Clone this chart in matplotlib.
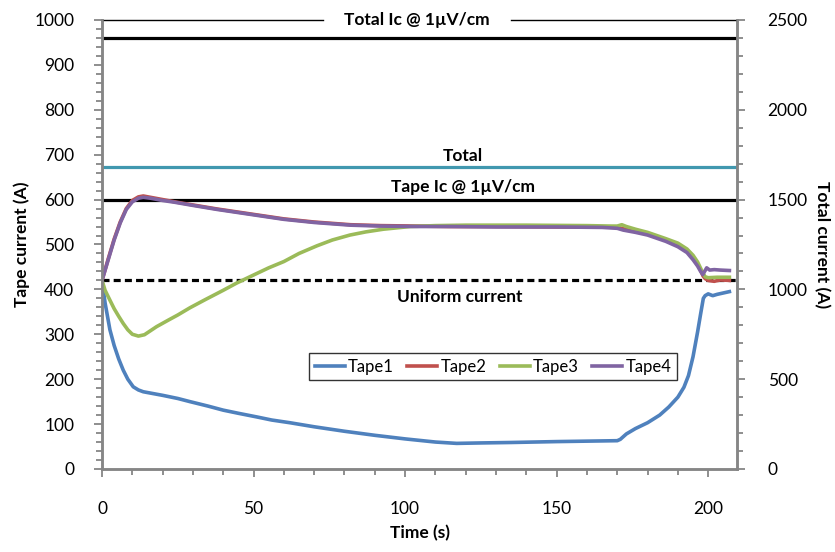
import matplotlib.pyplot as plt
from matplotlib.ticker import MultipleLocator

# ==============
# data
# ==============
t_tape1 = [0, 1, 2.6, 4, 5.5, 7, 8.5, 10.3, 12, 13.6, 16, 20, 25, 29, 35, 40, 45, 51, 56, 62,
           70, 80, 90, 100, 110, 117, 125, 135, 150, 160, 170, 171, 173, 176, 180, 184, 187,
           190, 192, 193.5, 195, 196.5, 197.5, 198.4, 199, 200, 201.5, 203, 205, 207]
tape1 = [420, 370, 310, 275, 245, 220, 200, 183, 176, 172, 169, 164, 157, 150, 140, 131, 124, 116, 109, 103,
         94, 84, 75, 67, 60, 57, 58, 59, 61, 62, 63, 66, 78, 90, 103, 120, 138,
         160, 182, 208, 250, 305, 345, 380, 386, 390, 386, 389, 392, 395]

t_tape2 = [0, 2, 4, 6, 8, 10, 12, 13.6, 16, 20, 24, 30, 38, 45, 50, 60, 70, 82, 92, 104, 115, 130,
           150, 165, 170, 172, 176, 180, 186, 190, 193, 195, 196.5, 197.5, 198.3, 199, 200, 202, 204, 207]
tape2 = [420, 467, 512, 550, 580, 598, 606, 608, 605, 600, 595, 588, 579, 572, 567, 557, 550, 544, 542, 541, 540, 540,
         539, 539, 538, 535, 530, 524, 510, 499, 486, 470, 455, 443, 430, 424, 420, 418, 421, 420]

t_tape3 = [0, 1, 2.6, 4, 5.5, 7, 8.5, 10, 12, 14, 16, 18, 22, 25, 29, 34, 40, 44.4, 50, 55, 60, 65,
           70.9, 76, 81.8, 87, 92.8, 101.7, 110, 120, 140, 160, 168, 170, 171.5, 173, 176, 180, 186,
           190, 193, 195, 196.5, 197.5, 198.3, 199, 200, 203, 207]
tape3 = [420, 398, 376, 357, 340, 324, 310, 300, 296, 299, 308, 317, 332, 343, 359, 377, 398, 414, 432, 448, 462, 480,
         497, 510, 521, 528, 534, 540, 542, 543, 543, 542, 541, 541, 544, 540, 534, 527, 513,
         503, 490, 476, 461, 447, 436, 428, 426, 427, 427]

t_tape4 = [0, 2, 4, 6, 8, 10, 12, 13.6, 16, 20, 24, 30, 38, 45, 50, 60, 70, 82, 92, 104, 115, 130,
           150, 165, 170, 172, 176, 180, 186, 190, 193, 195, 196.5, 197.5, 198.2, 199, 199.5, 200.5, 202, 204, 207]
tape4 = [420, 465, 510, 548, 578, 595, 603, 605, 603, 598, 594, 587, 578, 571, 566, 556, 549, 543, 541, 540, 540, 539,
         539, 538, 536, 532, 527, 521, 507, 495, 482, 466, 452, 440, 433, 442, 448, 443, 444, 443, 442]

x_range = [0, 210]
tape_ic = 600
uniform_current = 420
total_current = 1680
total_ic = 2400

colors = {"Tape1": "#4F81BD", "Tape2": "#C0504D", "Tape3": "#9BBB59", "Tape4": "#8064A2"}

plt.rcParams['font.family'] = ['Lato', 'DejaVu Sans']
axis_gray = "#868686"


def main():
    fig = plt.figure(figsize=(8.35, 5.52), dpi=100)
    ax = fig.add_axes([0.1222, 0.1504, 0.7604, 0.8134])
    ax2 = ax.twinx()

    # ==============
    # reference lines
    # ==============
    ax.plot(x_range, [tape_ic, tape_ic], color="black", lw=2.3, zorder=2)
    ax.plot(x_range, [uniform_current, uniform_current], color="black", lw=2.3,
            ls=(0, (2.2, 1.3)), zorder=2)
    ax.plot(x_range, [total_current / 2.5, total_current / 2.5], color="#4198AF", lw=2.3, zorder=2)
    ax.plot(x_range, [total_ic / 2.5, total_ic / 2.5], color="black", lw=2.3, zorder=2)

    # ==============
    # tape currents
    # ==============
    ax.plot(t_tape1, tape1, color=colors["Tape1"], lw=2.6, label="Tape1", zorder=3)
    ax.plot(t_tape2, tape2, color=colors["Tape2"], lw=2.6, label="Tape2", zorder=3)
    ax.plot(t_tape3, tape3, color=colors["Tape3"], lw=2.6, label="Tape3", zorder=3)
    ax.plot(t_tape4, tape4, color=colors["Tape4"], lw=2.6, label="Tape4", zorder=3)

    ax.set_xlim(0, 209.5)
    ax.set_ylim(0, 1000)
    ax2.set_ylim(0, 2500)

    ax.xaxis.set_major_locator(MultipleLocator(50))
    ax.xaxis.set_minor_locator(MultipleLocator(10))
    ax.yaxis.set_major_locator(MultipleLocator(100))
    ax.yaxis.set_minor_locator(MultipleLocator(20))
    ax2.yaxis.set_major_locator(MultipleLocator(500))
    ax2.yaxis.set_minor_locator(MultipleLocator(100))

    for a in (ax, ax2):
        for side in ("left", "right", "bottom"):
            a.spines[side].set_color(axis_gray)
            a.spines[side].set_linewidth(1.8)
        a.spines["top"].set_visible(False)
        a.tick_params(which="both", color=axis_gray, width=1.3, labelsize=12.5, labelcolor="black")
        a.tick_params(which="major", length=6)
        a.tick_params(which="minor", length=4)
    ax.tick_params(axis="x", which="major", pad=17)
    ax.tick_params(axis="y", which="major", pad=14)
    ax2.tick_params(axis="y", which="major", pad=16)

    # top border, broken where the title label sits
    ax.plot([0, 73], [1000, 1000], color="black", lw=1.0, clip_on=False, zorder=4)
    ax.plot([135, 209.5], [1000, 1000], color="black", lw=1.0, clip_on=False, zorder=4)

    ax.set_xlabel("Time (s)", fontsize=12.5, fontweight="bold", labelpad=6)
    ax.set_ylabel("Tape current (A)", fontsize=12.5, fontweight="bold", labelpad=3)
    ax2.set_ylabel("Total current (A)", fontsize=12.5, fontweight="bold", rotation=-90, labelpad=16)

    # ==============
    # line labels
    # ==============
    txt = dict(fontsize=12.5, fontweight="bold", ha="center", va="center", zorder=5)
    ax.text(104, 1000, "Total Ic @ 1\u00b5V/cm", clip_on=False, **txt)
    ax.text(119, 697, "Total", **txt)
    ax.text(119, 627, "Tape Ic @ 1\u00b5V/cm", **txt)
    ax.text(118, 382, "Uniform current", **txt)

    leg = ax.legend(loc="center", bbox_to_anchor=(0.616, 0.228), ncol=4, fontsize=12,
                    frameon=True, fancybox=False, edgecolor="black", handlelength=1.8,
                    handletextpad=0.2, columnspacing=0.8, borderpad=0.35)
    leg.get_frame().set_linewidth(1.0)

    fig.savefig("out.png", dpi=100)
    plt.close(fig)


if __name__ == "__main__":
    main()
